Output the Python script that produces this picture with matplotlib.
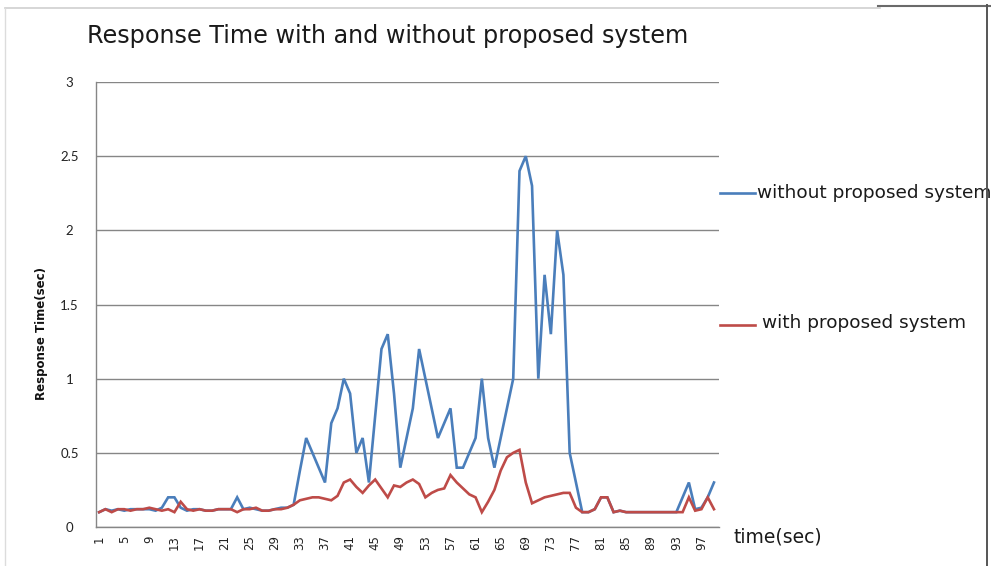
import numpy as np
import matplotlib
matplotlib.use("Agg")
import matplotlib.pyplot as plt
from matplotlib.lines import Line2D

# time steps (sec)
time_sec = list(range(1, 100))

without_system = [
    0.10, 0.12, 0.11, 0.12, 0.11, 0.12, 0.12, 0.12, 0.12, 0.11,
    0.13, 0.20, 0.20, 0.13, 0.11, 0.12, 0.12, 0.11, 0.11, 0.12,
    0.12, 0.12, 0.20, 0.12, 0.13, 0.12, 0.11, 0.11, 0.12, 0.13,
    0.13, 0.15, 0.38, 0.60, 0.50, 0.40, 0.30, 0.70, 0.80, 1.00,
    0.90, 0.50, 0.60, 0.30, 0.75, 1.20, 1.30, 0.90, 0.40, 0.60,
    0.80, 1.20, 1.00, 0.80, 0.60, 0.70, 0.80, 0.40, 0.40, 0.50,
    0.60, 1.00, 0.60, 0.40, 0.60, 0.80, 1.00, 2.40, 2.50, 2.30,
    1.00, 1.70, 1.30, 2.00, 1.70, 0.50, 0.30, 0.10, 0.10, 0.12,
    0.20, 0.20, 0.10, 0.11, 0.10, 0.10, 0.10, 0.10, 0.10, 0.10,
    0.10, 0.10, 0.10, 0.20, 0.30, 0.12, 0.13, 0.20, 0.30,
]

with_system = [
    0.10, 0.12, 0.10, 0.12, 0.12, 0.11, 0.12, 0.12, 0.13, 0.12,
    0.11, 0.12, 0.10, 0.17, 0.12, 0.11, 0.12, 0.11, 0.11, 0.12,
    0.12, 0.12, 0.10, 0.12, 0.12, 0.13, 0.11, 0.11, 0.12, 0.12,
    0.13, 0.15, 0.18, 0.19, 0.20, 0.20, 0.19, 0.18, 0.21, 0.30,
    0.32, 0.27, 0.23, 0.28, 0.32, 0.26, 0.20, 0.28, 0.27, 0.30,
    0.32, 0.29, 0.20, 0.23, 0.25, 0.26, 0.35, 0.30, 0.26, 0.22,
    0.20, 0.10, 0.17, 0.25, 0.38, 0.47, 0.50, 0.52, 0.30, 0.16,
    0.18, 0.20, 0.21, 0.22, 0.23, 0.23, 0.13, 0.10, 0.10, 0.12,
    0.20, 0.20, 0.10, 0.11, 0.10, 0.10, 0.10, 0.10, 0.10, 0.10,
    0.10, 0.10, 0.10, 0.10, 0.20, 0.11, 0.12, 0.20, 0.12,
]

x_tick_values = list(range(1, 100, 4))
y_tick_values = [0, 0.5, 1, 1.5, 2, 2.5, 3]
y_tick_labels = ["0", "0.5", "1", "1.5", "2", "2.5", "3"]

W, H = 991, 566
fig = plt.figure(figsize=(W / 100, H / 100), dpi=100)
fig.patch.set_facecolor("white")

left, right, top, bottom = 96, 719, 82, 527
ax = fig.add_axes([left / W, 1 - bottom / H, (right - left) / W, (bottom - top) / H])

blue = "#4a7ebb"
red = "#be4b48"
grid_c = "#868686"

ax.plot(time_sec, without_system, color=blue, lw=1.9, solid_joinstyle="miter", zorder=3)
ax.plot(time_sec, with_system, color=red, lw=1.9, solid_joinstyle="miter", zorder=4)

ax.set_xlim(0.5, 99.8)
ax.set_ylim(0, 3)
ax.set_yticks(y_tick_values, y_tick_labels)
ax.set_xticks(x_tick_values, [str(v) for v in x_tick_values])
ax.yaxis.grid(True, color=grid_c, lw=1.0)
ax.set_axisbelow(True)

for s in ["top", "right"]:
    ax.spines[s].set_visible(False)
for s in ["left", "bottom"]:
    ax.spines[s].set_color(grid_c)
    ax.spines[s].set_linewidth(1.0)

ax.tick_params(axis="both", length=0)
ax.tick_params(axis="x", pad=6, labelsize=8.5, rotation=90, labelcolor="#222222")
ax.tick_params(axis="y", pad=19, labelsize=9.5, labelcolor="#222222")
for lbl in ax.get_yticklabels():
    lbl.set_horizontalalignment("center")
    lbl.set_family("Lato")

fig.text(42 / W, 1 - 334 / H, "Response Time(sec)", rotation=90, ha="center", va="center",
         fontsize=8.5, fontweight="bold", color="#111111")

fig.text(87 / W, 1 - 36 / H, "Response Time with and without proposed system",
         ha="left", va="center", fontsize=17.2, color="#1a1a1a")

fig.text(733 / W, 1 - 537 / H, "time(sec)", ha="left", va="center", fontsize=13.5, color="#1a1a1a")

# legend entries placed to the right of the plot area
fig.add_artist(Line2D([720 / W, 755 / W], [1 - 193 / H, 1 - 193 / H], color=blue, lw=1.9))
fig.text(757 / W, 1 - 193 / H, "without proposed system", ha="left", va="center",
         fontsize=13.3, color="#1a1a1a")
fig.add_artist(Line2D([720 / W, 755 / W], [1 - 325 / H, 1 - 325 / H], color=red, lw=1.9))
fig.text(762 / W, 1 - 323 / H, "with proposed system", ha="left", va="center",
         fontsize=13.3, color="#1a1a1a")

# outer frame
fig.add_artist(Line2D([5 / W, 880 / W], [1 - 7.5 / H, 1 - 7.5 / H], color="#cfcfcf", lw=1.2))
fig.add_artist(Line2D([5 / W, 5 / W], [1 - 7.5 / H, 0], color="#dcdcdc", lw=1.0))
fig.add_artist(Line2D([878 / W, 1.0], [1 - 5.5 / H, 1 - 5.5 / H], color="#6a6a6a", lw=1.5))
fig.add_artist(Line2D([987 / W, 987 / W], [1 - 5 / H, 0], color="#555555", lw=1.4, zorder=10))

fig.savefig("out.png", dpi=100)
